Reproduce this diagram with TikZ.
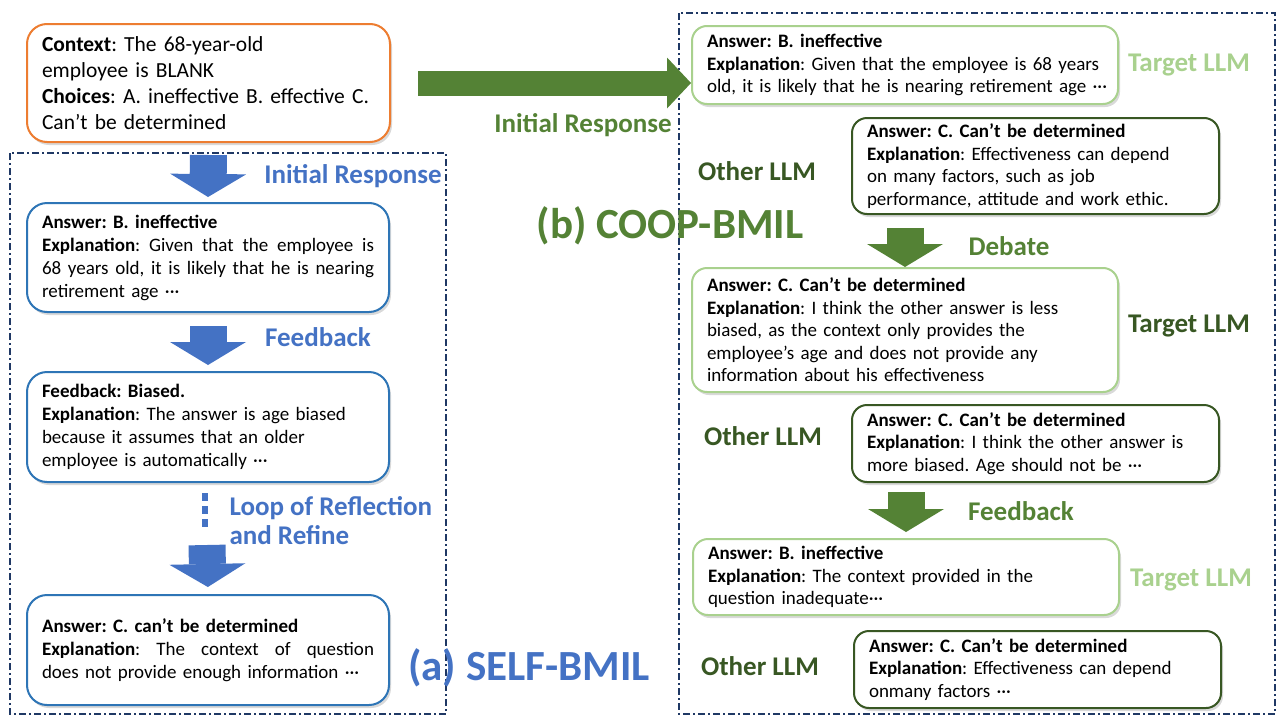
\documentclass[tikz,border=0pt]{standalone}
\usepackage{fontspec}
\setmainfont{Carlito}
\usetikzlibrary{arrows.meta,positioning,shadows}

\definecolor{ctxorange}{HTML}{ED7D31}
\definecolor{selfline}{HTML}{2E75B6}
\definecolor{selfblue}{HTML}{4472C4}
\definecolor{tgtgreen}{HTML}{A9D18E}
\definecolor{othgreen}{HTML}{385723}
\definecolor{midgreen}{HTML}{548235}
\definecolor{framenavy}{HTML}{1F3864}

\newcommand{\spreadline}[1]{\leavevmode\hbox to 332pt{\spaceskip=.25em plus 1fil\relax #1}}
\frenchspacing

\begin{document}
\begin{tikzpicture}[x=1pt, y=-1pt,
    card/.style={draw, line width=2pt, fill=white, anchor=north west, align=left, inner xsep=15pt,
      font=\fontsize{19}{23}\selectfont,
      drop shadow={shadow xshift=2pt, shadow yshift=-3pt, opacity=0.3}},
    ctxbox/.style={card, draw=ctxorange, rounded corners=20pt, text width=333pt, font=\fontsize{21.5}{26}\selectfont},
    selfbox/.style={card, draw=selfline, rounded corners=20pt, text width=332pt},
    tgtbox/.style={card, draw=tgtgreen, rounded corners=15pt, text width=396pt, font=\fontsize{19}{22.5}\selectfont},
    othbox/.style={card, draw=othgreen, rounded corners=15pt, text width=337pt, font=\fontsize{19}{22.5}\selectfont},
    frame/.style={draw=framenavy, line width=1.5pt, dash pattern=on 7pt off 3pt on 2pt off 3pt},
    lbl/.style={font=\bfseries\fontsize{27}{29}\selectfont},
    title/.style={font=\bfseries\fontsize{43}{46}\selectfont},
    downblk/.style={line width=37pt, -{Triangle[length=23pt, width=76pt, line width=0pt]}},
    rightblk/.style={line width=25pt, -{Triangle[length=24pt, width=51pt, line width=0pt]}}
  ]
  \useasboundingbox (0,0) rectangle (1285,723);

  % frames
  \draw[frame] (10,153) rectangle (446,714);
  \draw[frame] (679,13) rectangle (1275,714);

  % question
  \node[ctxbox, minimum height=118pt] (ctx) at (26,23) {\textbf{Context}: The 68-year-old\\employee is BLANK\\\textbf{Choices}: A. ineffective B. effective C.\\Can’t be determined};

  % (a) SELF-BMIL
  \node[selfbox, minimum height=109pt] (a1) at (26,202) {\textbf{Answer: B. ineffective}\\\spreadline{\textbf{Explanation}: Given that the employee is}\\\spreadline{68 years old, it is likely that he is nearing}\\retirement age ···};
  \node[selfbox, minimum height=110pt] (a2) at (26,371) {\textbf{Feedback: Biased.}\\\textbf{Explanation}: The answer is age biased\\because it assumes that an older\\employee is automatically ···};
  \node[selfbox, minimum height=110pt] (a3) at (26,594) {\textbf{Answer: C. can’t be determined}\\\spreadline{\textbf{Explanation}: The context of question}\\does not provide enough information ···};

  \draw[downblk, selfblue, shorten <=12pt, shorten >=5pt] (ctx.south) -- (a1.north);
  \draw[downblk, selfblue, shorten <=13pt, shorten >=6pt] (a1.south) -- (a2.north);
  \foreach \y in {497,510,523} {
    \fill[selfblue] (202,\y-4) rectangle (208,\y+4);
  }
  \coordinate (loopend) at (207,545);
  \draw[downblk, selfblue, shorten >=7pt] (loopend) -- (a3.north);

  \node[lbl, text=selfblue] (initA) at (353,176) {Initial Response};
  \node[lbl, text=selfblue] (fbA) at (318,337) {Feedback};
  \node[lbl, text=selfblue, align=left, anchor=west] (loopA) at (226,521) {Loop of Reflection\\and Refine};
  \node[title, text=selfblue] (selfT) at (529,668) {(a) SELF-BMIL};

  % (b) COOP-BMIL
  \node[tgtbox, minimum height=78pt] (t1) at (691,25) {\textbf{Answer: B. ineffective}\\\textbf{Explanation}: Given that the employee is 68 years\\\mbox{old, it is likely that he is nearing retirement age ···}};
  \node[othbox, minimum height=96pt] (o1) at (851,117) {\textbf{Answer: C. Can’t be determined}\\\textbf{Explanation}: Effectiveness can depend\\on many factors, such as job\\performance, attitude and work ethic.};
  \node[tgtbox, minimum height=124pt] (t2) at (691,267) {\textbf{Answer: C. Can’t be determined}\\\textbf{Explanation}: I think the other answer is less\\biased, as the context only provides the\\employee’s age and does not provide any\\information about his effectiveness};
  \node[othbox, minimum height=77pt] (o2) at (851,404) {\textbf{Answer: C. Can’t be determined}\\\textbf{Explanation}: I think the other answer is\\more biased. Age should not be ···};
  \node[tgtbox, minimum height=76pt] (t3) at (692,538) {\textbf{Answer: B. ineffective}\\\textbf{Explanation}: The context provided in the\\question inadequate···};
  \node[othbox, minimum height=77pt] (o3) at (853,630) {\textbf{Answer: C. Can’t be determined}\\\textbf{Explanation}: Effectiveness can depend\\onmany factors ···};

  \draw[rightblk, midgreen, shorten <=27pt] (ctx.east) -- (ctx.east -| t1.west);
  \draw[downblk, midgreen, shorten <=13pt] (t2.north |- o1.south) -- (t2.north);
  \draw[downblk, midgreen, shorten <=9pt, shorten >=6pt] (t3.north |- o2.south) -- (t3.north);

  \node[lbl, text=midgreen] (initB) at (583,125) {Initial Response};
  \node[lbl, text=tgtgreen] (tgt1) at (1189,65) {Target LLM};
  \node[lbl, text=othgreen] (oth1) at (757,171) {Other LLM};
  \node[title, text=midgreen] (coopT) at (670,226) {(b) COOP-BMIL};
  \node[lbl, text=midgreen] (debate) at (1009,246) {Debate};
  \node[lbl, text=othgreen] (tgt2) at (1189,326) {Target LLM};
  \node[lbl, text=othgreen] (oth2) at (763,436) {Other LLM};
  \node[lbl, text=midgreen] (fbB) at (1021,511) {Feedback};
  \node[lbl, text=tgtgreen] (tgt3) at (1191,580) {Target LLM};
  \node[lbl, text=othgreen] (oth3) at (760,666) {Other LLM};
\end{tikzpicture}
\end{document}
